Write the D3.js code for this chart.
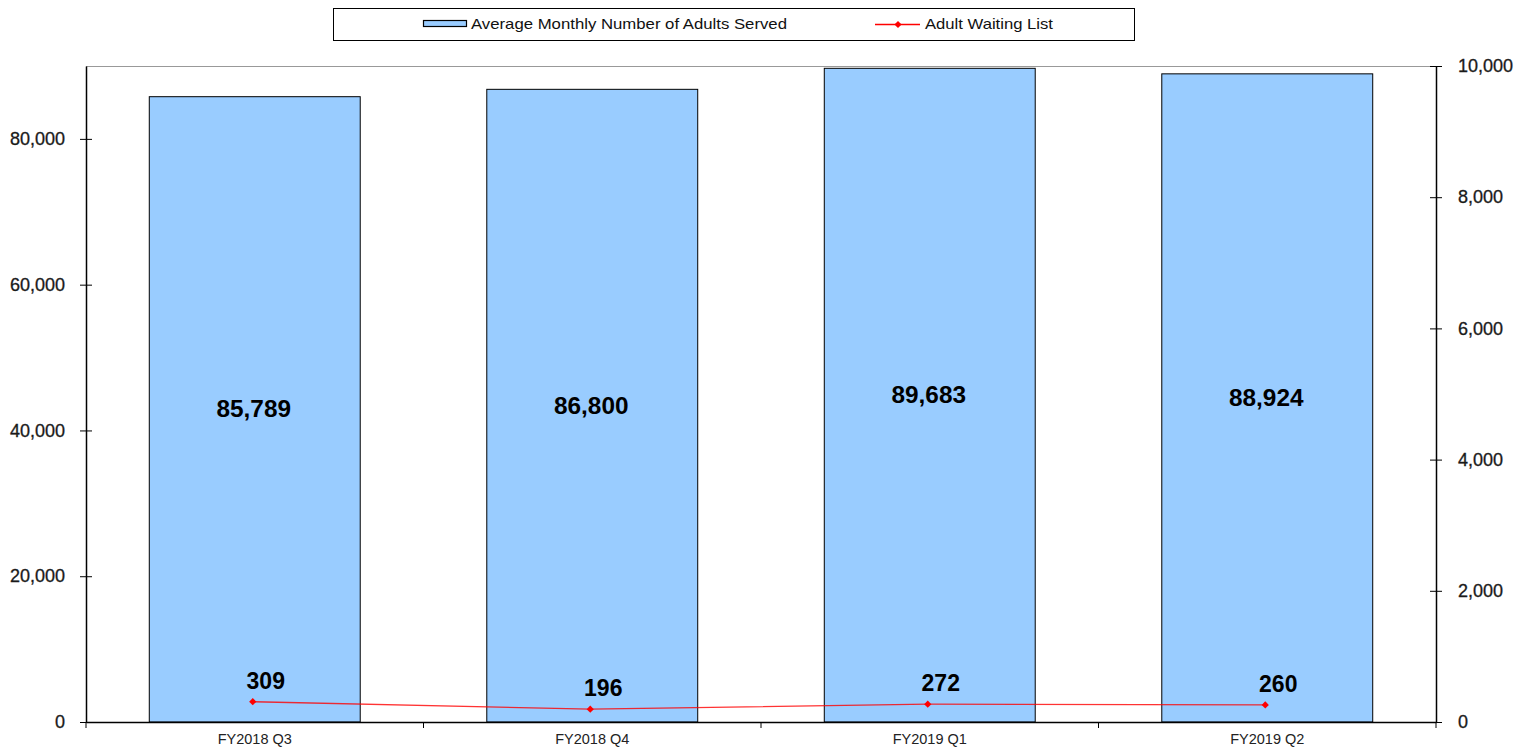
<!DOCTYPE html>
<html>
<head>
<meta charset="utf-8">
<script src="https://cdn.jsdelivr.net/npm/d3@7/dist/d3.min.js"></script>
<style>
body{margin:0;background:#fff;}
text{font-family:"Liberation Sans",Arial,sans-serif;}
</style>
</head>
<body>
<svg id="c" width="1523" height="749"></svg>
<script>
const categories = ["FY2018 Q3","FY2018 Q4","FY2019 Q1","FY2019 Q2"];
const adultsServed = [85789, 86800, 89683, 88924];
const waitingList = [309, 196, 272, 260];
const leftTicks = [0, 20000, 40000, 60000, 80000];
const rightTicks = [0, 2000, 4000, 6000, 8000, 10000];
const seriesNames = ["Average Monthly Number of Adults Served", "Adult Waiting List"];

const svg = d3.select("#c");
const m = {l:86, r:1436, t:66, b:722};
const fmt = d3.format(",");
const FONT = '"Liberation Sans",Arial,sans-serif';

function stretch(sel, k){
  sel.each(function(){
    const w = this.getComputedTextLength();
    d3.select(this).attr("textLength", w*k).attr("lengthAdjust","spacingAndGlyphs");
  });
}

const x = d3.scaleBand().domain(categories).range([m.l, m.r]).paddingInner(0.375).paddingOuter(0.1875);
const xb = d3.scaleBand().domain(categories).range([m.l, m.r]);
const yL = d3.scaleLinear().domain([0, 90000]).range([m.b, m.t]);
const yR = d3.scaleLinear().domain([0, 10000]).range([m.b, m.t]);

svg.append("line").attr("x1", m.l).attr("x2", m.r).attr("y1", m.t+0.5).attr("y2", m.t+0.5)
  .attr("stroke", "#999").attr("stroke-width", 1);

svg.selectAll("rect.bar").data(adultsServed).join("rect").attr("class","bar")
  .attr("x", (d,i)=>x(categories[i])).attr("width", x.bandwidth())
  .attr("y", d=>yL(d)).attr("height", d=>yL(0)-yL(d))
  .attr("fill", "#99ccff").attr("stroke", "#000").attr("stroke-width", 1);

svg.selectAll("text.bl").data(adultsServed).join("text").attr("class","bl")
  .attr("x", (d,i)=>x(categories[i]) + x.bandwidth()/2 - 1)
  .attr("y", d=>(yL(d)+yL(0))/2)
  .attr("dy", "0.35em").attr("text-anchor","middle")
  .attr("font-size", 23).attr("font-weight","bold").attr("fill","#000")
  .text(d=>fmt(d))
  .call(stretch, 1.06);

const gL = svg.append("g").attr("transform", `translate(${m.l},0)`)
  .call(d3.axisLeft(yL).tickValues(leftTicks).tickFormat(fmt).tickSizeInner(6).tickSizeOuter(0).tickPadding(14));
gL.select(".domain").attr("stroke","#000").attr("stroke-width",1.5);
gL.selectAll(".tick line").attr("x2", 6).attr("x1",-6).attr("stroke","#000");
gL.selectAll(".tick text").attr("font-size",18).attr("fill","#1a1a1a").attr("font-family",FONT)
  .attr("stroke","#1a1a1a").attr("stroke-width",0.3).attr("x", -21);

const gR = svg.append("g").attr("transform", `translate(${m.r},0)`)
  .call(d3.axisRight(yR).tickValues(rightTicks).tickFormat(fmt).tickSizeInner(6).tickSizeOuter(0).tickPadding(16));
gR.select(".domain").attr("stroke","#000").attr("stroke-width",1.5);
gR.selectAll(".tick line").attr("x1", -6).attr("x2",6).attr("stroke","#000");
gR.selectAll(".tick text").attr("font-size",18).attr("fill","#1a1a1a").attr("font-family",FONT)
  .attr("stroke","#1a1a1a").attr("stroke-width",0.3);

const gB = svg.append("g").attr("transform", `translate(0,${m.b})`)
  .call(d3.axisBottom(xb).tickSize(0).tickPadding(12));
gB.select(".domain").attr("stroke","#000").attr("stroke-width",1.5);
gB.selectAll(".tick text").attr("font-size",14.5).attr("fill","#222").attr("font-family",FONT);
const bounds = categories.map(c=>xb(c)).concat([m.r]);
svg.selectAll("line.bt").data(bounds).join("line").attr("class","bt")
  .attr("x1", d=>d).attr("x2", d=>d).attr("y1", m.b).attr("y2", m.b+6)
  .attr("stroke","#000").attr("stroke-width",1);

const cx = (i)=>x(categories[i]) + x.bandwidth()/2 - 2;
const line = d3.line().x((d,i)=>cx(i)).y(d=>yR(d));
svg.append("path").datum(waitingList).attr("d", line)
  .attr("fill","none").attr("stroke","#ff0000").attr("stroke-width",1.3).attr("opacity",0.8);
const diamond = d3.symbol().type(d3.symbolSquare).size(26);
svg.selectAll("path.mk").data(waitingList).join("path").attr("class","mk")
  .attr("transform", (d,i)=>`translate(${cx(i)},${yR(d)}) rotate(45)`).attr("d", diamond)
  .attr("fill","#ff0000");
svg.selectAll("text.ll").data(waitingList).join("text").attr("class","ll")
  .attr("x", (d,i)=>cx(i) + 13).attr("y", d=>yR(d) - 21)
  .attr("dy","0.35em").attr("text-anchor","middle")
  .attr("font-size", 23).attr("font-weight","bold").attr("fill","#000")
  .text(d=>d);

const lg = svg.append("g");
lg.append("rect").attr("x", 333.5).attr("y", 8.5).attr("width", 801).attr("height", 32)
  .attr("fill","#fff").attr("stroke","#000").attr("stroke-width",1);
lg.append("rect").attr("x", 423.5).attr("y", 20.5).attr("width", 43).attr("height", 6)
  .attr("fill","#99ccff").attr("stroke","#000").attr("stroke-width",1.2);
lg.append("text").attr("x", 471).attr("y", 23.5).attr("dy","0.35em")
  .attr("font-size",15).attr("fill","#111").attr("textLength",316).attr("lengthAdjust","spacingAndGlyphs")
  .text(seriesNames[0]);
lg.append("line").attr("x1", 875).attr("x2", 920).attr("y1", 24.5).attr("y2", 24.5)
  .attr("stroke","#ff0000").attr("stroke-width",1.3);
lg.append("path").attr("transform","translate(898,24.5) rotate(45)").attr("d", diamond).attr("fill","#ff0000");
lg.append("text").attr("x", 925).attr("y", 23.5).attr("dy","0.35em")
  .attr("font-size",15).attr("fill","#111").attr("textLength",128).attr("lengthAdjust","spacingAndGlyphs")
  .text(seriesNames[1]);
</script>
</body>
</html>
